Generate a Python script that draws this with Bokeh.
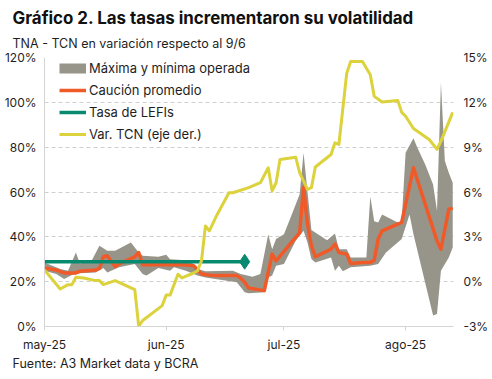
import pandas as pd
from bokeh.plotting import figure
from bokeh.models import (Range1d, LinearAxis, FixedTicker, PrintfTickFormatter,
                          Legend, LegendItem, Title)
from bokeh.embed import file_html
from bokeh.resources import INLINE

# ---------------- data ----------------
band_upper_dates = ["05-01", "05-05", "05-07", "05-09", "05-10", "05-13", "05-15", "05-17", "05-19",
                    "05-23", "05-25", "05-26", "05-30", "06-01", "06-02", "06-06", "06-08", "06-09",
                    "06-11", "06-18", "06-20", "06-23", "06-25", "06-27", "06-28", "06-29", "07-01",
                    "07-03", "07-05", "07-06", "07-07", "07-08", "07-12", "07-14", "07-15", "07-17",
                    "07-18", "07-22", "07-23", "07-24", "07-25", "07-26", "07-30", "07-31", "08-01",
                    "08-03", "08-04", "08-06", "08-08", "08-09", "08-10", "08-11", "08-12", "08-13"]
band_upper = [28.6, 25.6, 24.9, 33.0, 28.1, 29.3, 36.0, 33.8, 33.8,
              37.5, 33.0, 31.6, 31.1, 32.0, 30.0, 29.6, 27.9, 25.6,
              24.6, 24.9, 23.4, 22.2, 23.4, 41.2, 34.5, 39.0, 41.2,
              50.0, 59.0, 77.5, 60.0, 43.0, 38.5, 41.5, 34.5, 34.5,
              30.8, 30.8, 58.0, 47.0, 46.4, 50.0, 46.4, 47.4, 77.5,
              84.0, 79.7, 72.3, 63.4, 51.6, 109.0, 73.8, 68.6, 64.1]

band_lower_dates = ["05-01", "05-04", "05-06", "05-08", "05-10", "05-14", "05-16", "05-17", "05-20",
                    "05-24", "05-26", "05-27", "05-30", "06-02", "06-03", "06-06", "06-09", "06-11",
                    "06-19", "06-21", "06-22", "06-26", "06-27", "06-28", "06-29", "07-01", "07-04",
                    "07-06", "07-07", "07-08", "07-09", "07-13", "07-14", "07-15", "07-16", "07-18",
                    "07-23", "07-25", "07-27", "07-31", "08-02", "08-03", "08-08", "08-09", "08-10",
                    "08-12", "08-13"]
band_lower = [24.9, 23.4, 21.2, 23.0, 23.7, 24.1, 26.1, 24.1, 26.4,
              27.9, 23.4, 22.7, 26.1, 24.9, 26.4, 24.9, 22.7, 21.9,
              19.7, 15.3, 14.8, 15.3, 21.9, 22.7, 27.1, 27.9, 38.2,
              42.7, 37.5, 30.1, 28.6, 30.8, 24.9, 27.1, 24.6, 26.4,
              27.1, 27.9, 33.0, 39.0, 50.0, 41.2, 4.9, 5.6, 24.9,
              30.8, 35.2]

caucion_dates = ["05-01", "05-04", "05-06", "05-09", "05-10", "05-14", "05-15", "05-16", "05-17",
                 "05-19", "05-20", "05-24", "05-25", "05-26", "06-01", "06-05", "06-08", "06-10",
                 "06-13", "06-19", "06-20", "06-21", "06-22", "06-26", "06-28", "06-29", "07-05",
                 "07-06", "07-07", "07-08", "07-09", "07-13", "07-14", "07-15", "07-17", "07-18",
                 "07-21", "07-23", "07-24", "07-25", "07-26", "07-31", "08-03", "08-09", "08-10",
                 "08-12", "08-13"]
caucion = [26.1, 25.2, 23.9, 23.9, 24.7, 25.2, 25.9, 31.1, 31.6,
           26.7, 27.9, 31.1, 33.0, 27.6, 27.6, 27.6, 27.1, 23.4,
           22.7, 22.7, 21.5, 19.7, 17.2, 16.0, 32.3, 29.3, 41.9,
           62.0, 45.6, 36.0, 31.1, 34.5, 36.8, 33.0, 32.3, 28.1,
           28.6, 28.6, 29.6, 39.0, 42.7, 46.4, 70.8, 38.2, 34.5,
           52.3, 52.8]

lefi_dates = ["05-01", "06-21"]
lefi = [28.9, 28.9]

tcn_dates = ["05-01", "05-05", "05-07", "05-08", "05-09", "05-11", "05-14", "05-15", "05-16",
             "05-19", "05-24", "05-25", "05-26", "05-31", "06-01", "06-02", "06-04", "06-05",
             "06-08", "06-09", "06-10", "06-11", "06-12", "06-14", "06-17", "06-18", "06-22",
             "06-25", "06-27", "06-28", "06-29", "06-30", "07-04", "07-05", "07-07", "07-08",
             "07-09", "07-13", "07-14", "07-15", "07-17", "07-18", "07-21", "07-23", "07-24",
             "07-26", "07-30", "07-31", "08-01", "08-03", "08-07", "08-09", "08-10", "08-13"]
tcn = [0.78, -0.49, -0.2, -0.2, 0.29, 0.25, 0.07, 0.07, -0.2,
       0.07, -0.53, -2.98, -2.6, -1.6, -0.9, -0.9, 0.5, 0.25,
       0.58, 0.73, 1.4, 3.73, 3.4, 4.5, 5.95, 5.95, 6.29,
       6.62, 7.62, 6.07, 6.62, 8.18, 8.33, 7.3, 6.18, 6.29,
       7.67, 8.51, 9.29, 9.18, 13.95, 14.73, 14.73, 13.85, 12.4,
       12.02, 12.13, 11.33, 11.07, 10.25, 9.51, 8.85, 9.4, 11.33]

month_ticks = ["05-01", "06-01", "07-01", "08-01"]
month_labels = ["may-25", "jun-25", "jul-25", "ago-25"]
left_ticks = [0, 20, 40, 60, 80, 100, 120]
right_ticks = [-3, 0, 3, 6, 9, 12, 15]

YEAR = "2025-"


def to_dt(lst):
    return list(pd.to_datetime([YEAR + d for d in lst]))


# ---------------- styles ----------------
GREY = "#97958a"
ORANGE = "#f05a28"
GREEN = "#088a70"
YELLOW = "#dcd23c"
TEXT = "#1e1e1e"
FONT = "Inter"

start = pd.Timestamp(YEAR + "05-01")
end = start + pd.Timedelta(hours=104.2 * 24)

p = figure(width=492, height=379, x_axis_type="datetime",
           x_range=Range1d(start, end), y_range=Range1d(0, 120),
           output_backend="svg", toolbar_location=None,
           min_border_left=44, min_border_right=39, min_border_top=57, min_border_bottom=53)
p.outline_line_color = None
p.background_fill_color = "white"
p.extra_y_ranges = {"right": Range1d(-3, 15)}

# band
ux = to_dt(band_upper_dates)
lx = to_dt(band_lower_dates)
p.patch(ux + lx[::-1], band_upper + band_lower[::-1], fill_color=GREY, line_color=None)
band_legend = p.line(x=[start, start], y=[float("nan"), float("nan")],
                     line_width=10, line_color=GREY, line_cap="butt")

r_cau = p.line(to_dt(caucion_dates), caucion, line_color=ORANGE, line_width=3.5, line_join="round")
r_lefi = p.line(to_dt(lefi_dates), lefi, line_color=GREEN, line_width=3.5)
p.scatter(to_dt(lefi_dates[-1:]), lefi[-1:], marker="diamond", size=15, color=GREEN)
r_tcn = p.line(to_dt(tcn_dates), tcn, line_color=YELLOW, line_width=3, y_range_name="right",
               line_join="round")

# axes
xa = p.xaxis[0]
xa.ticker = FixedTicker(ticks=[t.value / 1e6 for t in to_dt(month_ticks)])
xa.major_label_overrides = {t.value / 1e6: lab for t, lab in zip(to_dt(month_ticks), month_labels)}
xa.axis_line_color = "#d4d4d4"
xa.major_tick_line_color = "#d4d4d4"
xa.major_tick_out = 4
xa.major_tick_in = 0
xa.minor_tick_line_color = None
xa.major_label_standoff = 6
xa.major_label_text_font = FONT
xa.major_label_text_font_size = "12px"
xa.major_label_text_color = TEXT

ya = p.yaxis[0]
ya.ticker = FixedTicker(ticks=left_ticks)
ya.formatter = PrintfTickFormatter(format="%d%%")
ya.axis_line_color = "#d4d4d4"
ya.major_tick_line_color = None
ya.minor_tick_line_color = None
ya.major_tick_out = 0
ya.major_label_standoff = 8
ya.major_label_text_font = FONT
ya.major_label_text_font_size = "12px"
ya.major_label_text_color = TEXT

ra = LinearAxis(y_range_name="right", ticker=FixedTicker(ticks=right_ticks),
                formatter=PrintfTickFormatter(format="%d%%"))
ra.axis_line_color = None
ra.major_tick_line_color = None
ra.minor_tick_line_color = None
ra.major_tick_out = 0
ra.major_label_standoff = 10
ra.major_label_text_font = FONT
ra.major_label_text_font_size = "12px"
ra.major_label_text_color = TEXT
p.add_layout(ra, "right")

p.xgrid.grid_line_color = None
p.ygrid.ticker = FixedTicker(ticks=left_ticks[1:])
p.ygrid.grid_line_color = "#cfcfcf"
p.ygrid.grid_line_dash = "4 3"

legend = Legend(items=[
    LegendItem(label="Máxima y mínima operada", renderers=[band_legend]),
    LegendItem(label="Caución promedio", renderers=[r_cau]),
    LegendItem(label="Tasa de LEFIs", renderers=[r_lefi]),
    LegendItem(label="Var. TCN (eje der.)", renderers=[r_tcn]),
], location=(15, 182))
legend.margin = 0
legend.padding = 0
legend.spacing = 2
legend.glyph_width = 27
legend.glyph_height = 20
legend.label_height = 20
legend.label_standoff = 3
legend.label_text_font = FONT
legend.label_text_font_size = "13px"
legend.label_text_color = TEXT
legend.background_fill_alpha = 0
legend.border_line_color = None
p.add_layout(legend)

# texts
p.add_layout(Title(text="TNA - TCN en variación respecto  al 9/6", align="left", offset=-32,
                   standoff=14, text_font=FONT, text_font_size="12.5px",
                   text_font_style="normal", text_color=TEXT), "above")
p.add_layout(Title(text="Gráfico 2. Las tasas incrementaron su volatilidad", align="left",
                   offset=-32, standoff=-2, text_font=FONT, text_font_size="16.9px",
                   text_font_style="bold", text_color="#111111"), "above")
p.add_layout(Title(text="Fuente: A3 Market data y BCRA", align="left", offset=-32,
                   standoff=-2, text_font=FONT, text_font_size="12.5px",
                   text_font_style="normal", text_color=TEXT), "below")

open("out.html", "w").write(file_html(p, INLINE))
